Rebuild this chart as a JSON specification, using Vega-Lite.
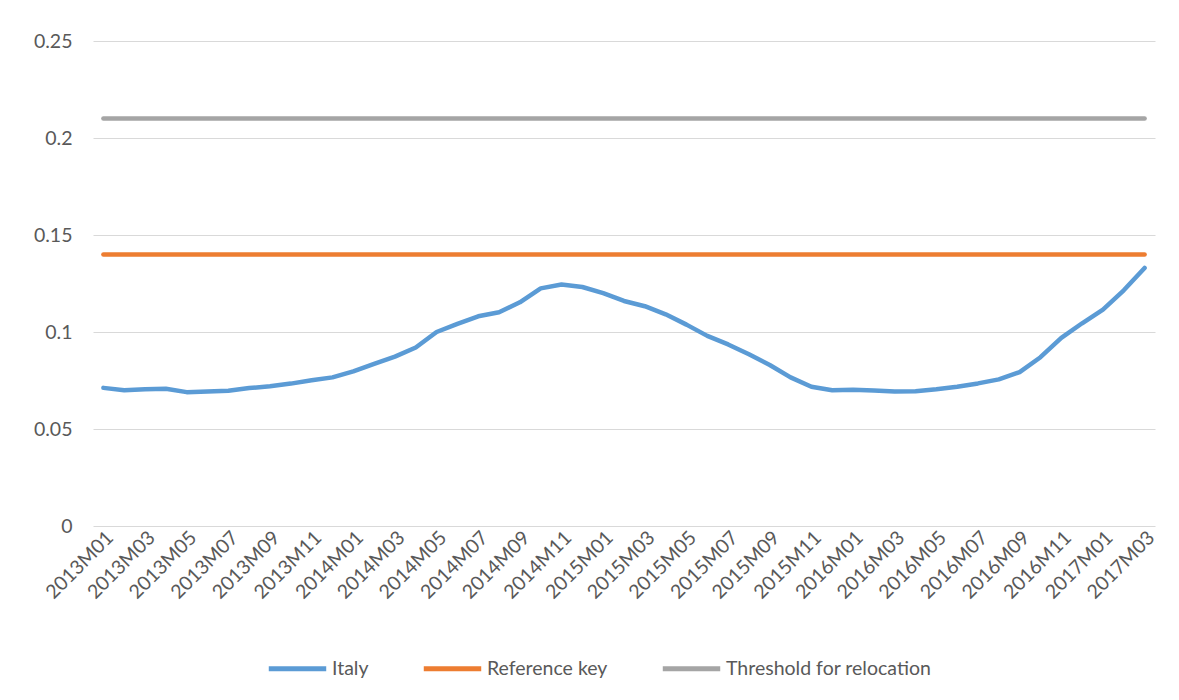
{
  "$schema": "https://vega.github.io/schema/vega-lite/v6.json",
  "autosize": "none",
  "width": 1062,
  "height": 485,
  "padding": {"left": 93, "top": 41, "right": 24, "bottom": 174},
  "background": "white",
  "config": {
    "view": {"stroke": null},
    "font": "Lato",
    "axis": {"labelFont": "Lato", "labelColor": "#595959", "labelFontSize": 19.5, "domain": false, "ticks": false, "labelLimit": 0},
    "legend": {"labelFont": "Lato", "labelColor": "#595959", "labelFontSize": 19.5, "labelLimit": 0}
  },
  "data": {
    "values": [
      {"month": "2013M01", "Italy": 0.0712, "Reference key": 0.14, "Threshold for relocation": 0.21},
      {"month": "2013M02", "Italy": 0.0700, "Reference key": 0.14, "Threshold for relocation": 0.21},
      {"month": "2013M03", "Italy": 0.0705, "Reference key": 0.14, "Threshold for relocation": 0.21},
      {"month": "2013M04", "Italy": 0.0707, "Reference key": 0.14, "Threshold for relocation": 0.21},
      {"month": "2013M05", "Italy": 0.0690, "Reference key": 0.14, "Threshold for relocation": 0.21},
      {"month": "2013M06", "Italy": 0.0693, "Reference key": 0.14, "Threshold for relocation": 0.21},
      {"month": "2013M07", "Italy": 0.0697, "Reference key": 0.14, "Threshold for relocation": 0.21},
      {"month": "2013M08", "Italy": 0.0711, "Reference key": 0.14, "Threshold for relocation": 0.21},
      {"month": "2013M09", "Italy": 0.0720, "Reference key": 0.14, "Threshold for relocation": 0.21},
      {"month": "2013M10", "Italy": 0.0734, "Reference key": 0.14, "Threshold for relocation": 0.21},
      {"month": "2013M11", "Italy": 0.0751, "Reference key": 0.14, "Threshold for relocation": 0.21},
      {"month": "2013M12", "Italy": 0.0766, "Reference key": 0.14, "Threshold for relocation": 0.21},
      {"month": "2014M01", "Italy": 0.0797, "Reference key": 0.14, "Threshold for relocation": 0.21},
      {"month": "2014M02", "Italy": 0.0836, "Reference key": 0.14, "Threshold for relocation": 0.21},
      {"month": "2014M03", "Italy": 0.0873, "Reference key": 0.14, "Threshold for relocation": 0.21},
      {"month": "2014M04", "Italy": 0.0920, "Reference key": 0.14, "Threshold for relocation": 0.21},
      {"month": "2014M05", "Italy": 0.1000, "Reference key": 0.14, "Threshold for relocation": 0.21},
      {"month": "2014M06", "Italy": 0.1042, "Reference key": 0.14, "Threshold for relocation": 0.21},
      {"month": "2014M07", "Italy": 0.1081, "Reference key": 0.14, "Threshold for relocation": 0.21},
      {"month": "2014M08", "Italy": 0.1102, "Reference key": 0.14, "Threshold for relocation": 0.21},
      {"month": "2014M09", "Italy": 0.1153, "Reference key": 0.14, "Threshold for relocation": 0.21},
      {"month": "2014M10", "Italy": 0.1225, "Reference key": 0.14, "Threshold for relocation": 0.21},
      {"month": "2014M11", "Italy": 0.1245, "Reference key": 0.14, "Threshold for relocation": 0.21},
      {"month": "2014M12", "Italy": 0.1232, "Reference key": 0.14, "Threshold for relocation": 0.21},
      {"month": "2015M01", "Italy": 0.1200, "Reference key": 0.14, "Threshold for relocation": 0.21},
      {"month": "2015M02", "Italy": 0.1160, "Reference key": 0.14, "Threshold for relocation": 0.21},
      {"month": "2015M03", "Italy": 0.1133, "Reference key": 0.14, "Threshold for relocation": 0.21},
      {"month": "2015M04", "Italy": 0.1091, "Reference key": 0.14, "Threshold for relocation": 0.21},
      {"month": "2015M05", "Italy": 0.1038, "Reference key": 0.14, "Threshold for relocation": 0.21},
      {"month": "2015M06", "Italy": 0.0980, "Reference key": 0.14, "Threshold for relocation": 0.21},
      {"month": "2015M07", "Italy": 0.0936, "Reference key": 0.14, "Threshold for relocation": 0.21},
      {"month": "2015M08", "Italy": 0.0885, "Reference key": 0.14, "Threshold for relocation": 0.21},
      {"month": "2015M09", "Italy": 0.0830, "Reference key": 0.14, "Threshold for relocation": 0.21},
      {"month": "2015M10", "Italy": 0.0766, "Reference key": 0.14, "Threshold for relocation": 0.21},
      {"month": "2015M11", "Italy": 0.0718, "Reference key": 0.14, "Threshold for relocation": 0.21},
      {"month": "2015M12", "Italy": 0.0700, "Reference key": 0.14, "Threshold for relocation": 0.21},
      {"month": "2016M01", "Italy": 0.0702, "Reference key": 0.14, "Threshold for relocation": 0.21},
      {"month": "2016M02", "Italy": 0.0698, "Reference key": 0.14, "Threshold for relocation": 0.21},
      {"month": "2016M03", "Italy": 0.0693, "Reference key": 0.14, "Threshold for relocation": 0.21},
      {"month": "2016M04", "Italy": 0.0695, "Reference key": 0.14, "Threshold for relocation": 0.21},
      {"month": "2016M05", "Italy": 0.0705, "Reference key": 0.14, "Threshold for relocation": 0.21},
      {"month": "2016M06", "Italy": 0.0718, "Reference key": 0.14, "Threshold for relocation": 0.21},
      {"month": "2016M07", "Italy": 0.0735, "Reference key": 0.14, "Threshold for relocation": 0.21},
      {"month": "2016M08", "Italy": 0.0756, "Reference key": 0.14, "Threshold for relocation": 0.21},
      {"month": "2016M09", "Italy": 0.0793, "Reference key": 0.14, "Threshold for relocation": 0.21},
      {"month": "2016M10", "Italy": 0.0870, "Reference key": 0.14, "Threshold for relocation": 0.21},
      {"month": "2016M11", "Italy": 0.0970, "Reference key": 0.14, "Threshold for relocation": 0.21},
      {"month": "2016M12", "Italy": 0.1045, "Reference key": 0.14, "Threshold for relocation": 0.21},
      {"month": "2017M01", "Italy": 0.1115, "Reference key": 0.14, "Threshold for relocation": 0.21},
      {"month": "2017M02", "Italy": 0.1215, "Reference key": 0.14, "Threshold for relocation": 0.21},
      {"month": "2017M03", "Italy": 0.1330, "Reference key": 0.14, "Threshold for relocation": 0.21}
    ]
  },
  "transform": [
    {"fold": ["Italy", "Reference key", "Threshold for relocation"], "as": ["series", "value"]}
  ],
  "mark": {"type": "line", "strokeWidth": 4.5, "strokeCap": "round", "strokeJoin": "round"},
  "encoding": {
    "x": {
      "field": "month",
      "type": "ordinal",
      "sort": null,
      "scale": {"type": "point", "padding": 0.5},
      "axis": {
        "title": null,
        "labelAngle": -45,
        "labelAlign": "right",
        "labelBaseline": "top",
        "labelPadding": 2,
        "grid": false,
        "labelOverlap": false,
        "values": ["2013M01","2013M03","2013M05","2013M07","2013M09","2013M11","2014M01","2014M03","2014M05","2014M07","2014M09","2014M11","2015M01","2015M03","2015M05","2015M07","2015M09","2015M11","2016M01","2016M03","2016M05","2016M07","2016M09","2016M11","2017M01","2017M03"]
      }
    },
    "y": {
      "field": "value",
      "type": "quantitative",
      "scale": {"domain": [0, 0.25], "nice": false},
      "axis": {
        "title": null,
        "values": [0, 0.05, 0.1, 0.15, 0.2, 0.25],
        "format": "~g",
        "grid": true,
        "gridColor": "#D9D9D9",
        "gridWidth": 1.2,
        "labelPadding": 21
      }
    },
    "color": {
      "field": "series",
      "type": "nominal",
      "scale": {
        "domain": ["Italy", "Reference key", "Threshold for relocation"],
        "range": ["#5B9BD5", "#ED7D31", "#A5A5A5"]
      },
      "legend": {
        "title": null,
        "orient": "none",
        "legendX": 173,
        "legendY": 596,
        "direction": "horizontal",
        "symbolType": "stroke",
        "symbolSize": 3300,
        "symbolStrokeWidth": 5,
        "labelOffset": 3,
        "columnPadding": 44
      }
    }
  }
}
